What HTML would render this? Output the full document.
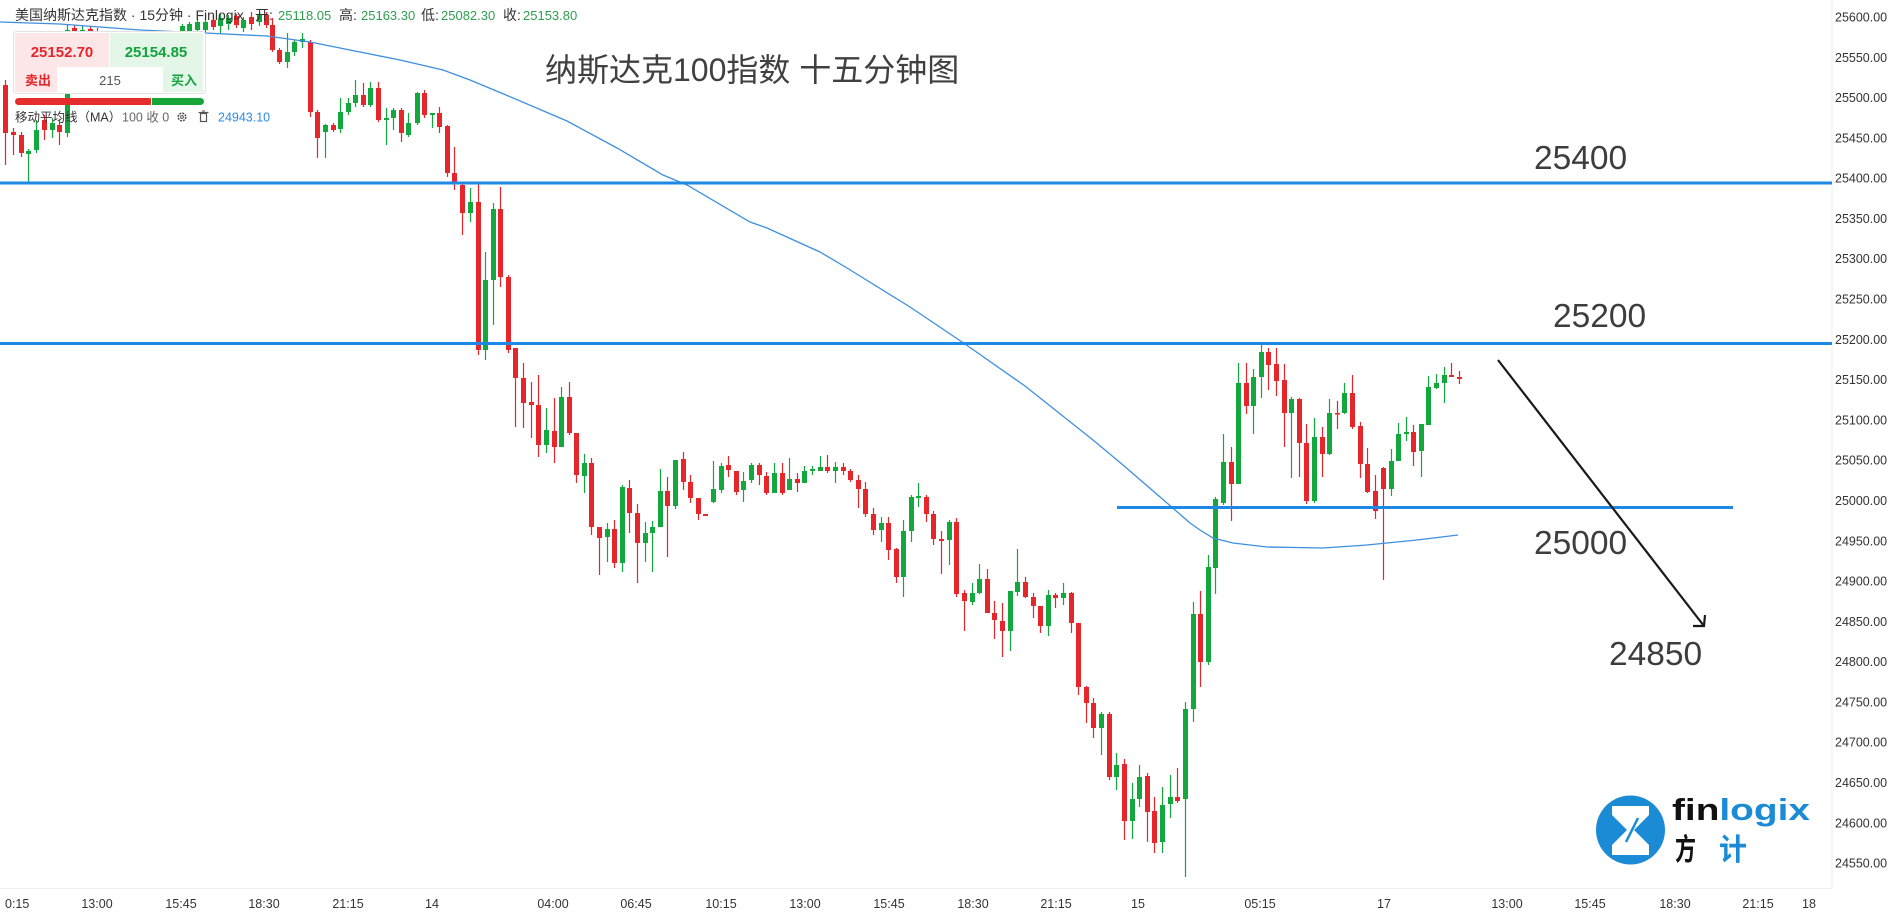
<!DOCTYPE html>
<html>
<head>
<meta charset="utf-8">
<style>
html,body{margin:0;padding:0;background:#fff;}
body{width:1891px;height:917px;overflow:hidden;position:relative;font-family:"Liberation Sans","Noto Sans CJK SC",sans-serif;}
svg{position:absolute;left:0;top:0;}
</style>
</head>
<body>
<svg id="chart" width="1891" height="917" viewBox="0 0 1891 917" xmlns="http://www.w3.org/2000/svg" font-family="Liberation Sans, Noto Sans CJK SC, sans-serif">
  <!-- axes -->
  <line x1="1832" y1="0" x2="1832" y2="888" stroke="#ececec" stroke-width="1"/>
  <line x1="0" y1="888.5" x2="1832" y2="888.5" stroke="#eeeeee" stroke-width="1"/>
  <g id="candles"></g>
  <!-- MA line -->
  <polyline fill="none" stroke="#3d8fe0" stroke-width="1.3" points="0,22 60,24 140,30 205,33 267,36 310,42 350,50 400,60 443,70 470,80 506,95 567,121 617,148 663,175 687,185 750,222 767,228 820,252 847,268 910,307 965,344 1025,386 1093,440 1123,465 1167,503 1190,523 1200,530 1213,538 1233,543 1267,547 1323,548 1367,545 1417,540 1458,535"/>
  <!-- horizontal levels -->
  <line x1="0" y1="183" x2="1832" y2="183" stroke="#1e88e5" stroke-width="3"/>
  <line x1="0" y1="343.5" x2="1832" y2="343.5" stroke="#1e88e5" stroke-width="3"/>
  <line x1="1117" y1="507.5" x2="1733" y2="507.5" stroke="#1e88e5" stroke-width="3"/>
  <!-- arrow -->
  <line x1="1498" y1="360" x2="1704" y2="626" stroke="#1a1a1a" stroke-width="2.2"/>
  <polyline points="1693,626 1704,626 1705,615" fill="none" stroke="#1a1a1a" stroke-width="2.2"/>
  <!-- annotations -->
  <g fill="#3d3d3d" font-size="33.5">
    <text x="1534" y="169">25400</text>
    <text x="1553" y="327">25200</text>
    <text x="1534" y="554">25000</text>
    <text x="1609" y="665">24850</text>
  </g>
  <text x="545" y="81" font-size="32" fill="#404040">纳斯达克100指数 十五分钟图</text>

  <!-- price axis -->
  <g font-size="12.5" fill="#333">
    <text x="1835" y="21.5">25600.00</text>
    <text x="1835" y="61.8">25550.00</text>
    <text x="1835" y="102.1">25500.00</text>
    <text x="1835" y="142.4">25450.00</text>
    <text x="1835" y="182.7">25400.00</text>
    <text x="1835" y="223.0">25350.00</text>
    <text x="1835" y="263.2">25300.00</text>
    <text x="1835" y="303.5">25250.00</text>
    <text x="1835" y="343.8">25200.00</text>
    <text x="1835" y="384.1">25150.00</text>
    <text x="1835" y="424.4">25100.00</text>
    <text x="1835" y="464.7">25050.00</text>
    <text x="1835" y="505.0">25000.00</text>
    <text x="1835" y="545.3">24950.00</text>
    <text x="1835" y="585.6">24900.00</text>
    <text x="1835" y="625.9">24850.00</text>
    <text x="1835" y="666.1">24800.00</text>
    <text x="1835" y="706.4">24750.00</text>
    <text x="1835" y="746.7">24700.00</text>
    <text x="1835" y="787.0">24650.00</text>
    <text x="1835" y="827.3">24600.00</text>
    <text x="1835" y="867.6">24550.00</text>
  </g>
  <!-- time axis -->
  <g font-size="12.5" fill="#333" text-anchor="middle">
    <text x="5" y="908" text-anchor="start">0:15</text>
    <text x="97" y="908">13:00</text>
    <text x="181" y="908">15:45</text>
    <text x="264" y="908">18:30</text>
    <text x="348" y="908">21:15</text>
    <text x="432" y="908">14</text>
    <text x="553" y="908">04:00</text>
    <text x="636" y="908">06:45</text>
    <text x="721" y="908">10:15</text>
    <text x="805" y="908">13:00</text>
    <text x="889" y="908">15:45</text>
    <text x="973" y="908">18:30</text>
    <text x="1056" y="908">21:15</text>
    <text x="1138" y="908">15</text>
    <text x="1260" y="908">05:15</text>
    <text x="1384" y="908">17</text>
    <text x="1507" y="908">13:00</text>
    <text x="1590" y="908">15:45</text>
    <text x="1675" y="908">18:30</text>
    <text x="1758" y="908">21:15</text>
    <text x="1809" y="908">18</text>
  </g>

  <!-- header -->
  <g font-size="14" fill="#333">
    <text x="15" y="20">美国纳斯达克指数 · 15分钟 · Finlogix</text>
    <text x="255" y="20">开:</text>
    <text x="339" y="20">高:</text>
    <text x="421" y="20">低:</text>
    <text x="503" y="20">收:</text>
  </g>
  <g font-size="13" fill="#2e9e4f">
    <text x="278" y="20">25118.05</text>
    <text x="361" y="20">25163.30</text>
    <text x="441" y="20">25082.30</text>
    <text x="523" y="20">25153.80</text>
  </g>

  <!-- trade panel -->
  <rect x="13.5" y="31.5" width="192" height="62" rx="3" fill="#ffffff" stroke="#e2e2e2"/>
  <rect x="15" y="33" width="94" height="34" fill="#fde6e8"/>
  <rect x="110" y="33" width="93" height="34" fill="#e3f6e8"/>
  <rect x="15" y="67" width="42" height="25" fill="#fde6e8"/>
  <rect x="163" y="67" width="40" height="25" fill="#e3f6e8"/>
  <text x="62" y="57" font-size="15" font-weight="bold" fill="#e5262a" text-anchor="middle">25152.70</text>
  <text x="156" y="57" font-size="15" font-weight="bold" fill="#13a33c" text-anchor="middle">25154.85</text>
  <text x="25" y="85" font-size="13" font-weight="bold" fill="#e5262a">卖出</text>
  <text x="110" y="85" font-size="13" fill="#555" text-anchor="middle">215</text>
  <text x="171" y="85" font-size="13" font-weight="bold" fill="#13a33c">买入</text>
  <rect x="15" y="98" width="137" height="7" rx="3.5" fill="#e52d2d"/>
  <rect x="152" y="98" width="52" height="7" rx="3.5" fill="#16a538"/>
  <rect x="150" y="98" width="4" height="7" fill="#e52d2d"/>
  <rect x="152" y="98" width="4" height="7" fill="#16a538"/>
  <line x1="151.5" y1="98" x2="151.5" y2="105" stroke="#fff" stroke-width="1"/>

  <!-- MA legend -->
  <text x="15" y="121.5" font-size="12.5" fill="#333">移动平均线（MA）</text>
  <text x="122" y="121.5" font-size="12.5" fill="#666">100 收 0</text>
  <circle cx="182" cy="117" r="3.8" fill="none" stroke="#555" stroke-width="1.6" stroke-dasharray="2 1"/>
  <circle cx="182" cy="117" r="1.4" fill="none" stroke="#555" stroke-width="1"/>
  <rect x="200.5" y="113.5" width="6" height="8" fill="none" stroke="#555" stroke-width="1.2"/>
  <line x1="198.5" y1="112.5" x2="208.5" y2="112.5" stroke="#555" stroke-width="1.2"/>
  <line x1="202" y1="111" x2="205" y2="111" stroke="#555" stroke-width="1"/>
  <text x="218" y="121.5" font-size="12.5" fill="#2f8ae5">24943.10</text>

  <!-- logo -->
  <circle cx="1630.5" cy="830" r="34.5" fill="#1b8bd6"/>
  <polygon points="1612,806 1649,806 1649,815 1634,830 1649,845 1649,855 1612,855 1612,845 1627,830 1612,815" fill="#ffffff"/>
  <path d="M1626,842 L1638,818" stroke="#1b8bd6" stroke-width="2.5" fill="none"/>
  <text x="1672" y="820" font-size="31" font-weight="bold" textLength="138" lengthAdjust="spacingAndGlyphs"><tspan fill="#111">fin</tspan><tspan fill="#1b8bd6">logix</tspan></text>
  <text x="1675" y="860" font-size="30" font-weight="bold" fill="#111" textLength="21" lengthAdjust="spacingAndGlyphs">方</text>
  <text x="1719" y="860" font-size="30" font-weight="bold" fill="#1b8bd6" textLength="28" lengthAdjust="spacingAndGlyphs">计</text>
</svg>
<script>
(function(){
var G=1,R=0;
var d=[
[5,R,85,133,80,165],[13,R,132,135,128,155],[21,R,135,153,132,157],[28,G,151,154,149,183],[36,G,130,150,120,153],
[44,R,120,130,115,140],[52,G,123,130,118,138],[59,R,125,132,120,145],[67,G,30,133,25,137],[74,R,28,45,25,50],
[82,G,30,44,26,48],[90,R,29,40,26,46],[97,R,31,50,28,55],[105,G,38,52,33,58],[113,R,40,60,36,66],
[120,G,45,62,40,70],[128,R,48,68,44,75],[136,G,50,66,46,72],[143,G,44,55,40,60],[151,R,44,58,40,64],
[159,G,40,56,36,60],[166,G,36,46,34,52],[174,R,36,44,33,50],[182,G,26,42,24,48],[189,G,24,36,22,40],
[197,G,22,30,19,34],[205,G,22,30,18,33],[213,R,20,27,16,30],[220,G,18,26,14,34],[228,G,18,24,15,30],
[236,R,16,25,14,28],[243,G,20,28,17,32],[251,R,17,24,12,30],[259,G,15,22,12,26],[266,R,15,25,12,28],
[272,R,25,50,18,52],[279,R,50,62,48,64],[287,G,52,62,33,68],[294,G,42,52,40,56],[302,G,39,42,33,48],
[310,R,42,112,40,117],[317,R,112,138,110,158],[325,G,125,132,124,158],[333,R,125,130,123,132],[340,G,112,129,98,133],
[348,G,103,112,98,115],[355,G,95,103,80,107],[363,R,95,105,83,107],[370,G,88,105,82,107],[378,R,88,120,82,122],
[386,G,118,120,108,145],[393,G,110,118,108,130],[401,R,110,133,108,142],[408,G,123,135,113,137],[417,G,93,123,92,125],
[424,R,93,115,90,118],[432,G,113,115,113,128],[439,R,113,127,107,133],[447,R,126,173,125,177],[454,R,173,183,147,190],
[462,R,185,213,183,235],[470,G,202,213,188,222],[478,R,202,350,183,355],[485,G,280,350,252,360],[493,G,209,280,203,325],
[500,R,209,277,187,287],[508,R,277,350,275,353],[515,R,348,378,348,427],[523,R,378,403,363,428],[531,R,402,405,382,438],
[538,R,405,445,375,457],[546,G,430,445,408,453],[554,R,431,447,398,463],[561,G,397,447,387,447],[569,R,397,433,382,435],
[576,R,433,475,433,483],[584,G,463,476,454,493],[591,R,463,527,458,535],[599,R,527,538,527,575],[607,G,529,537,523,562],
[614,R,529,563,520,568],[622,G,487,563,485,572],[629,R,488,513,480,533],[637,R,513,543,504,583],[645,G,533,543,522,562],
[652,G,527,533,521,572],[660,G,491,527,469,527],[667,R,491,506,477,557],[675,G,460,506,460,509],[683,R,459,482,452,490],
[690,R,482,498,475,503],[698,R,498,514,498,520],[705,R,514,516,514,516],[713,G,489,502,461,503],[721,G,466,490,463,493],
[728,R,465,470,456,477],[736,R,471,492,471,495],[743,G,481,490,472,502],[751,G,465,480,463,483],[759,R,465,475,463,485],
[766,R,476,493,472,495],[774,G,473,493,463,493],[782,R,473,493,463,495],[789,G,479,490,458,490],[797,R,479,483,473,492],
[804,G,471,483,466,483],[812,G,469,471,466,475],[820,G,467,471,456,471],[827,R,467,471,455,473],[835,G,467,471,462,483],
[843,R,467,471,463,475],[850,R,471,480,469,482],[858,R,480,489,475,508],[865,R,489,514,482,517],[873,R,514,530,508,535],
[881,G,523,530,517,542],[888,R,523,550,517,560],[896,R,549,577,548,583],[903,G,531,577,520,597],[911,G,497,531,495,542],
[918,G,496,498,483,507],[926,R,497,514,495,522],[933,R,514,539,511,545],[941,R,539,541,531,574],[949,G,522,540,520,565],
[956,R,522,594,518,597],[964,R,593,601,590,631],[972,G,593,602,583,605],[979,G,579,593,564,594],[987,R,579,613,569,613],
[994,R,613,620,601,639],[1002,R,621,631,603,657],[1010,G,591,631,591,651],[1017,G,582,592,549,596],[1025,R,582,597,577,598],
[1033,R,597,606,593,618],[1040,R,606,626,606,633],[1048,G,595,626,590,636],[1055,R,595,598,593,608],[1063,G,593,598,583,605],
[1071,R,593,623,592,633],[1078,R,623,687,623,695],[1086,R,687,703,686,723],[1093,R,703,728,698,738],[1101,G,714,728,712,755],
[1109,R,714,777,712,780],[1116,G,765,777,753,790],[1124,R,764,821,759,840],[1132,G,799,821,783,839],[1139,G,777,799,765,807],
[1147,R,776,812,773,842],[1154,R,811,843,797,853],[1162,G,805,842,787,853],[1170,G,797,804,775,818],[1177,R,797,801,768,803],
[1185,G,709,799,702,877],[1193,G,614,709,602,722],[1200,R,614,662,591,687],[1208,G,567,662,555,665],[1215,G,499,568,497,594],
[1223,G,462,503,434,505],[1231,R,462,484,447,521],[1238,G,383,484,363,484],[1246,R,383,406,363,414],[1253,G,377,406,369,434],
[1261,G,352,377,342,398],[1268,R,352,365,348,390],[1276,R,364,381,348,396],[1284,R,380,413,364,447],[1291,G,399,413,397,478],
[1299,R,399,443,398,477],[1306,R,443,501,424,504],[1314,G,437,501,418,503],[1322,R,437,454,427,477],[1329,G,413,454,399,455],
[1337,R,413,414,401,429],[1344,G,393,413,383,414],[1352,R,393,427,375,429],[1360,R,426,464,422,478],[1367,R,464,492,448,493],
[1375,R,491,511,475,519],[1383,R,468,489,467,580],[1391,G,461,489,449,496],[1398,G,434,461,423,461],[1406,G,432,434,417,441],
[1413,R,432,452,425,466],[1421,G,424,451,424,477],[1428,G,387,425,376,425],[1436,G,383,388,374,389],[1444,G,375,383,367,403],
[1451,R,375,377,363,377],[1459,R,377,379,371,384]
];
var ns="http://www.w3.org/2000/svg",g=document.getElementById("candles");
for(var i=0;i<d.length;i++){
  var c=d[i],col=c[1]?"#13a83e":"#e5262a";
  var l=document.createElementNS(ns,"line");
  l.setAttribute("x1",c[0]+0.5);l.setAttribute("x2",c[0]+0.5);
  l.setAttribute("y1",c[4]);l.setAttribute("y2",c[5]);
  l.setAttribute("stroke",col);l.setAttribute("stroke-width","1.2");
  g.appendChild(l);
  var r=document.createElementNS(ns,"rect");
  r.setAttribute("x",c[0]-2);r.setAttribute("y",c[2]);
  r.setAttribute("width",5);r.setAttribute("height",Math.max(1.5,c[3]-c[2]));
  r.setAttribute("fill",col);
  g.appendChild(r);
}
})();
</script>
</body>
</html>
